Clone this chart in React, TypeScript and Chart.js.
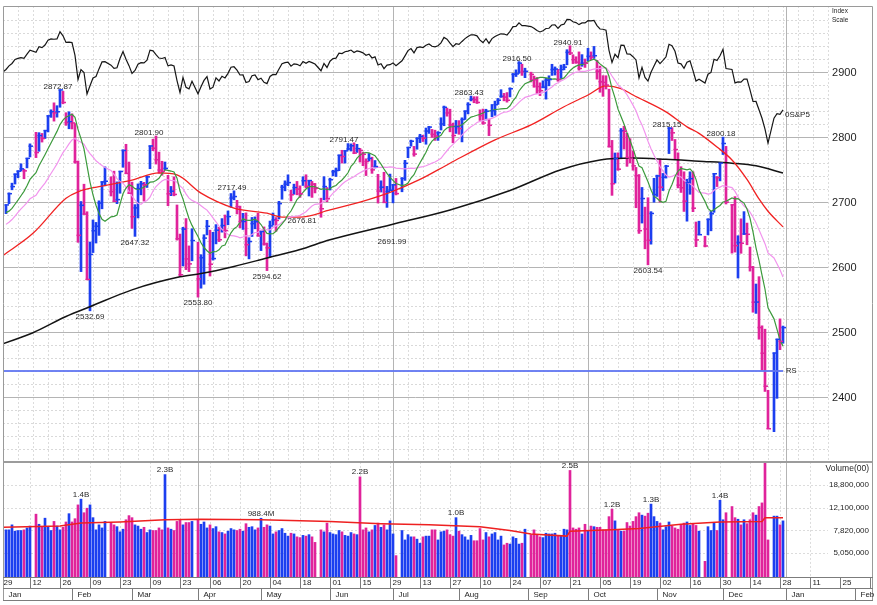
import React, { useEffect, useRef } from "react";
import { Chart, registerables } from "chart.js";

Chart.register(...registerables);

// ---------------- DATA (S&P 500, daily, 2018) ----------------
// closes of the 20 sessions before the first bar (Dec 1 - Dec 29, 2017)
const priorCloses = [
  2642.22, 2639.44, 2629.57, 2629.27, 2636.98, 2651.5, 2659.99, 2664.11, 2662.85, 2652.01,
  2675.81, 2690.16, 2681.47, 2679.25, 2684.57, 2683.34, 2680.5, 2682.62, 2687.54, 2673.61,
];

const tradingDays = [
  // Jan
  "01-02","01-03","01-04","01-05","01-08","01-09","01-10","01-11","01-12","01-16","01-17","01-18","01-19","01-22","01-23","01-24","01-25","01-26","01-29","01-30","01-31",
  // Feb
  "02-01","02-02","02-05","02-06","02-07","02-08","02-09","02-12","02-13","02-14","02-15","02-16","02-20","02-21","02-22","02-23","02-26","02-27","02-28",
  // Mar
  "03-01","03-02","03-05","03-06","03-07","03-08","03-09","03-12","03-13","03-14","03-15","03-16","03-19","03-20","03-21","03-22","03-23","03-26","03-27","03-28","03-29",
  // Apr
  "04-02","04-03","04-04","04-05","04-06","04-09","04-10","04-11","04-12","04-13","04-16","04-17","04-18","04-19","04-20","04-23","04-24","04-25","04-26","04-27","04-30",
  // May
  "05-01","05-02","05-03","05-04","05-07","05-08","05-09","05-10","05-11","05-14","05-15","05-16","05-17","05-18","05-21","05-22","05-23","05-24","05-25","05-29","05-30","05-31",
  // Jun
  "06-01","06-04","06-05","06-06","06-07","06-08","06-11","06-12","06-13","06-14","06-15","06-18","06-19","06-20","06-21","06-22","06-25","06-26","06-27","06-28","06-29",
  // Jul
  "07-02","07-03","07-05","07-06","07-09","07-10","07-11","07-12","07-13","07-16","07-17","07-18","07-19","07-20","07-23","07-24","07-25","07-26","07-27","07-30","07-31",
  // Aug
  "08-01","08-02","08-03","08-06","08-07","08-08","08-09","08-10","08-13","08-14","08-15","08-16","08-17","08-20","08-21","08-22","08-23","08-24","08-27","08-28","08-29","08-30","08-31",
  // Sep
  "09-04","09-05","09-06","09-07","09-10","09-11","09-12","09-13","09-14","09-17","09-18","09-19","09-20","09-21","09-24","09-25","09-26","09-27","09-28",
  // Oct
  "10-01","10-02","10-03","10-04","10-05","10-08","10-09","10-10","10-11","10-12","10-15","10-16","10-17","10-18","10-19","10-22","10-23","10-24","10-25","10-26","10-29","10-30","10-31",
  // Nov
  "11-01","11-02","11-05","11-06","11-07","11-08","11-09","11-12","11-13","11-14","11-15","11-16","11-19","11-20","11-21","11-23","11-26","11-27","11-28","11-29","11-30",
  // Dec
  "12-03","12-04","12-06","12-07","12-10","12-11","12-12","12-13","12-14","12-17","12-18","12-19","12-20","12-21","12-24","12-26","12-27","12-28","12-31",
];

const highs = [
  2695.89,2714.37,2729.29,2743.45,2748.51,2759.14,2750.8,2767.56,2789.81,2807.54,2807.04,2805.83,2810.33,2833.03,2842.24,2852.97,2848.56,2872.87,2870.62,2837.75,2839.26,
  2835.96,2821.13,2763.39,2701.04,2727.67,2685.27,2638.67,2672.61,2668.84,2702.1,2731.51,2754.42,2739.14,2747.75,2731.26,2747.76,2780.64,2789.15,2761.85,
  2730.89,2696.25,2728.09,2732.08,2730.6,2740.45,2786.57,2796.98,2801.9,2777.11,2763.03,2761.85,2741.38,2724.22,2739.14,2695.68,2650.88,2661.36,2674.78,2632.65,2659.07,
  2638.3,2619.14,2649.86,2672.08,2656.88,2653.55,2665.45,2661.43,2674.72,2680.26,2686.49,2713.34,2717.49,2702.84,2693.94,2682.86,2683.55,2645.3,2676.48,2677.35,2682.92,
  2655.27,2661.88,2637.14,2670.93,2683.35,2676.34,2701.27,2726.11,2732.86,2742.1,2718.59,2727.76,2731.96,2725.11,2739.19,2742.24,2733.33,2731.97,2728.91,2706.14,2739.26,2722.5,
  2736.93,2749.16,2752.61,2772.39,2779.9,2779.39,2790.21,2789.8,2791.47,2789.06,2782.81,2776.87,2766.82,2774.99,2769.28,2764.17,2742.94,2732.91,2746.09,2724.34,2743.26,
  2727.26,2736.58,2737.83,2764.41,2784.65,2795.58,2785.91,2799.22,2804.53,2803.15,2814.19,2816.76,2812.05,2810.85,2808.61,2829.99,2848.03,2844.91,2843.17,2821.74,2825.83,
  2825.57,2829.91,2840.38,2853.29,2863.43,2862.44,2862.48,2842.2,2843.4,2843.11,2827.95,2850.49,2855.63,2859.76,2873.23,2867.54,2868.78,2876.16,2898.25,2903.77,2916.5,2912.46,2906.32,
  2900.18,2894.21,2892.05,2883.81,2886.93,2890.74,2894.65,2912.36,2908.3,2904.65,2911.17,2912.36,2934.8,2940.91,2926.94,2923.95,2931.42,2927.22,2920.53,
  2937.06,2931.42,2939.86,2918.49,2909.64,2894.83,2894.7,2874.02,2795.14,2775.77,2775.99,2813.46,2816.94,2806.04,2797.77,2778.94,2753.59,2742.59,2722.7,2692.38,2706.85,2685.43,2736.69,
  2741.67,2766.28,2744.27,2756.82,2815.15,2814.75,2796.59,2775.99,2754.6,2746.8,2735.38,2746.75,2746.66,2669.44,2670.73,2647.55,2674.35,2685.75,2744.0,2739.51,2760.88,
  2800.18,2785.93,2696.15,2708.54,2648.34,2674.35,2685.44,2667.84,2630.86,2601.13,2573.99,2585.29,2509.63,2504.41,2410.34,2467.76,2489.1,2520.27,2509.24,
];

const lows = [
  2682.36,2697.77,2719.07,2727.92,2737.6,2747.86,2736.06,2752.78,2769.64,2768.64,2778.38,2792.56,2798.08,2808.12,2830.59,2824.81,2830.94,2846.18,2851.48,2818.27,2813.04,
  2812.7,2759.97,2638.17,2593.07,2681.33,2580.56,2532.69,2622.45,2637.08,2648.87,2689.82,2725.11,2709.54,2701.29,2697.77,2713.74,2753.78,2744.22,2713.54,
  2659.65,2647.32,2675.75,2711.26,2701.74,2722.65,2751.54,2779.26,2758.68,2744.38,2741.47,2749.97,2694.59,2710.05,2709.79,2641.59,2585.89,2601.81,2596.12,2593.06,2609.72,
  2553.8,2567.56,2573.61,2649.58,2586.27,2610.79,2635.78,2639.25,2653.83,2645.05,2665.16,2692.05,2703.63,2681.9,2660.61,2657.99,2617.32,2612.67,2647.16,2659.01,2648.04,
  2625.41,2633.75,2594.62,2615.32,2664.7,2655.2,2674.14,2704.54,2717.45,2725.47,2701.91,2712.17,2711.36,2707.38,2725.7,2721.88,2709.54,2707.38,2714.26,2676.81,2703.63,2700.68,
  2718.7,2740.54,2739.51,2748.46,2760.16,2760.16,2780.17,2778.78,2774.65,2776.52,2761.73,2756.21,2740.99,2763.34,2744.39,2752.68,2698.67,2715.6,2699.38,2691.99,2718.03,
  2698.95,2711.16,2716.02,2733.52,2768.51,2786.24,2770.77,2781.53,2791.69,2793.39,2789.24,2805.89,2799.77,2795.14,2795.14,2811.12,2817.73,2832.41,2808.34,2791.47,2805.85,
  2804.53,2792.84,2827.37,2835.98,2855.92,2853.09,2851.98,2825.81,2819.88,2826.58,2802.49,2831.44,2833.73,2850.62,2861.32,2856.05,2854.03,2862.07,2884.69,2893.5,2898.4,2895.22,2891.73,
  2885.13,2876.92,2867.29,2864.12,2875.94,2858.7,2879.2,2895.24,2895.77,2886.16,2890.43,2903.82,2911.48,2927.11,2913.44,2913.7,2903.28,2909.27,2907.5,
  2917.91,2919.37,2921.36,2889.45,2869.29,2862.99,2874.27,2784.86,2710.51,2729.44,2749.03,2766.91,2781.81,2755.18,2760.27,2749.22,2691.43,2651.89,2667.84,2628.16,2603.54,2635.34,2699.95,
  2708.85,2699.96,2717.94,2737.08,2774.87,2794.99,2766.98,2722.0,2714.98,2685.75,2670.75,2712.16,2685.34,2631.52,2649.82,2631.09,2649.64,2655.89,2684.38,2724.02,2732.76,
  2773.38,2697.18,2621.53,2623.14,2583.23,2621.3,2650.26,2634.36,2593.84,2530.54,2528.71,2488.96,2441.18,2408.55,2351.1,2346.58,2397.94,2472.89,2482.82,
];

const closes = [
  2695.81,2713.06,2723.99,2743.15,2747.71,2751.29,2748.23,2767.56,2786.24,2776.42,2802.56,2798.03,2810.3,2832.97,2839.13,2837.54,2839.25,2872.87,2853.53,2822.43,2823.81,
  2821.98,2762.13,2648.94,2695.14,2681.66,2581.0,2619.55,2656.0,2662.94,2698.63,2731.2,2732.22,2716.26,2701.33,2703.96,2747.3,2779.6,2744.28,2713.83,
  2677.67,2691.25,2720.94,2728.12,2726.8,2738.97,2786.57,2783.02,2765.31,2749.48,2747.33,2752.01,2712.92,2716.94,2711.93,2643.69,2588.26,2658.55,2612.62,2605.0,2640.87,
  2581.88,2614.45,2644.69,2662.84,2604.47,2613.16,2656.87,2642.19,2663.99,2656.3,2677.84,2706.39,2708.64,2693.13,2670.14,2670.29,2634.56,2639.4,2666.94,2669.91,2648.05,
  2654.8,2635.67,2629.73,2663.42,2672.63,2671.92,2697.79,2723.07,2727.72,2730.13,2711.45,2722.46,2720.13,2712.97,2733.01,2724.44,2733.29,2727.76,2721.33,2689.86,2724.01,2705.27,
  2734.62,2746.87,2748.8,2772.35,2770.37,2779.03,2782.0,2786.85,2775.63,2782.49,2779.66,2773.75,2762.59,2767.32,2749.76,2754.88,2717.07,2723.06,2699.63,2716.31,2718.37,
  2726.71,2713.22,2736.61,2759.82,2784.17,2793.84,2774.02,2798.29,2801.31,2798.43,2809.55,2815.62,2804.49,2801.83,2806.98,2820.4,2846.07,2837.44,2818.82,2802.6,2816.29,
  2813.36,2827.22,2840.35,2850.4,2858.45,2857.7,2853.58,2833.28,2821.93,2839.96,2818.37,2840.69,2850.13,2857.05,2862.96,2861.82,2856.98,2874.69,2896.74,2897.52,2914.04,2901.13,2901.52,
  2896.72,2888.6,2878.05,2871.68,2877.13,2887.89,2888.92,2904.18,2904.98,2888.8,2904.31,2907.95,2930.75,2929.67,2919.37,2915.56,2905.97,2914.0,2913.98,
  2924.59,2923.43,2925.51,2901.61,2885.57,2884.43,2880.34,2785.68,2728.37,2767.13,2750.79,2809.92,2809.21,2768.78,2767.78,2755.88,2740.69,2656.1,2705.57,2658.69,2641.25,2682.63,2711.74,
  2740.37,2723.06,2738.31,2755.45,2813.89,2806.83,2781.01,2726.22,2722.18,2701.58,2730.2,2736.27,2690.73,2641.89,2649.93,2632.56,2673.45,2682.17,2743.79,2737.8,2760.17,
  2790.37,2700.06,2695.95,2633.08,2637.72,2636.78,2651.07,2650.54,2599.95,2545.94,2546.16,2506.96,2467.42,2416.62,2351.1,2467.7,2488.83,2485.74,2506.85,
];

// volume, in millions of hundreds of shares
const volumes = [
  7.9,7.9,8.7,7.7,7.8,7.8,7.9,8.2,8.5,10.7,8.8,8.4,9.9,8.3,7.8,9.3,8.5,7.9,8.3,9.2,10.8,
  9.2,9.8,12.8,14.3,11.0,12.0,12.8,10.0,7.9,8.7,8.2,9.3,9.1,8.7,8.4,7.6,8.0,9.6,10.4,
  10.0,8.7,8.5,8.0,8.3,7.5,7.9,7.8,7.8,8.2,7.9,23.0,8.2,8.0,7.8,9.3,9.6,8.7,9.1,9.1,9.3,
  9.6,8.8,9.2,8.2,8.7,8.1,8.4,7.6,7.5,7.3,7.7,8.1,7.9,7.8,8.0,7.7,8.9,8.3,8.4,7.9,8.2,
  9.884,8.3,8.7,8.5,7.3,7.6,7.8,8.1,7.4,7.0,7.4,7.3,6.9,6.8,7.1,7.0,7.2,6.9,6.2,7.9,7.6,9.0,
  7.5,7.3,7.2,7.8,7.6,7.1,7.0,7.5,7.3,7.2,22.0,7.9,8.2,7.6,7.9,8.6,9.0,8.3,8.7,7.9,9.4,
  7.3,4.8,7.8,6.5,7.2,6.9,6.9,6.6,6.1,6.9,7.0,7.0,7.9,7.9,6.5,7.6,7.7,7.9,7.2,7.0,10.0,
  7.7,7.2,6.9,6.5,7.1,6.4,6.4,8.1,6.5,7.5,6.9,7.3,7.5,6.5,7.0,5.9,6.1,6.0,6.9,6.7,6.0,6.1,8.0,
  7.2,7.9,7.2,6.9,6.8,7.4,7.3,7.3,7.4,7.1,7.0,8.0,7.9,24.9,8.2,8.0,8.2,7.3,8.8,
  7.8,8.5,8.4,8.3,8.3,7.9,7.9,10.2,11.8,9.4,7.9,7.7,7.7,9.1,8.5,9.3,10.2,11.0,10.5,10.3,10.9,13.0,10.2,
  9.3,9.0,7.9,8.4,9.2,8.5,8.2,8.0,8.7,9.0,9.2,8.6,8.8,8.6,7.7,4.3,8.4,7.8,9.0,7.8,14.0,
  9.6,11.0,12.4,10.0,9.7,8.7,9.6,8.9,9.6,11.0,10.5,12.4,13.3,29.0,6.5,10.3,10.3,8.7,9.4,
];

// 50-day moving average
const ma50Dates = ["01-01","01-15","01-30","02-05","02-14","03-01","03-14","03-22","04-03","04-18","05-03","05-10","05-18","06-01","06-15","06-29","07-13","07-27","08-17","09-04","09-19","10-01","10-09","10-16","10-22","11-06","11-15","11-21","11-29","12-06","12-13","12-19","12-24","12-31"];
const ma50Values = [2618,2652,2706,2716,2724,2734,2745,2742,2714,2691,2683,2677,2677,2688,2700,2715,2735,2760,2796,2819,2847,2865,2879,2875,2865,2839,2816,2806,2785,2765,2735,2705,2686,2662];

// 200-day moving average
const ma200Dates = ["01-01","01-15","01-30","02-09","03-01","03-23","04-03","04-18","05-03","05-18","06-01","06-29","07-27","08-24","09-18","10-05","10-22","11-06","11-21","12-06","12-18","12-31"];
const ma200Values = [2482,2499,2524,2539,2565,2585,2590,2601,2614,2627,2642,2665,2688,2718,2750,2765,2768,2766,2763,2760,2756,2745];

// 50-day average volume (millions of hundreds)
const volAvgDates = ["01-01","01-26","02-06","02-23","03-16","04-03","05-01","06-01","06-26","07-18","08-10","08-24","09-04","09-20","09-21","10-11","10-24","11-13","11-30","12-20","12-21","12-31"];
const volAvgValues = [8.3,8.5,9.0,9.2,9.6,9.7,9.6,9.3,8.9,8.7,8.4,7.8,7.3,7.0,7.7,7.9,8.1,8.8,9.2,9.3,10.0,10.0];

// horizontal "RS" reference line
const rsLineLevel = 2440;
const rsLineDates = ["01-01", "12-31"];

const highLabelDates = ["01-26","03-13","04-18","06-13","08-07","08-29","09-21","11-07","12-03"];
const lowLabelDates = ["02-09","03-02","04-02","05-03","05-29","06-28","10-29"];
const volLabelDates = ["02-06","03-16","05-01","06-15","07-31","09-21","10-11","10-30","11-30"];

const priceTicks = [2400, 2500, 2600, 2700, 2800, 2900];
const volumeTicks = [18800000, 12100000, 7820000, 5050000];

const dayTickDates = ["2017-12-29","01-12","01-26","02-09","02-23","03-09","03-23","04-06","04-20","05-04","05-18","06-01","06-15","06-29","07-13","07-27","08-10","08-24","09-07","09-21","10-05","10-19","11-02","11-16","11-30","12-14","12-28","2019-01-11","2019-01-25","2019-02-08"];
const monthStartDates = ["01-01","02-01","03-01","04-02","05-01","06-01","07-02","08-01","09-03","10-01","11-01","12-03","2019-01-01","2019-02-01"];
const monthLabels = ["Jan","Feb","Mar","Apr","May","Jun","Jul","Aug","Sep","Oct","Nov","Dec","Jan","Feb"];
const quarterStartDates = ["04-02","07-02","10-01","2019-01-01"];

// ---------------- layout / style ----------------
const FONT = '"Liberation Sans", Arial, Helvetica, sans-serif';
const BLUE = "#1c3ff0";
const MAGENTA = "#e0239b";
const X_MIN = 1;
const X_MAX = 291;
const GRID_RIGHT = 276;
const PANEL_SPLIT = 2300;
const PRICE_MIN = 2122.8;
const PRICE_MAX = 3002.1;
const RS_MIN = 318.8;
const RS_MAX = 2993.2;
const VOL_MIN = 3.175;
const VOL_MAX = 197700;
const labelNudges: Record<string, [number, number]> = {
  "03-13": [-5, 0],
  "06-13": [-8, 0],
  "05-29": [-19, -2],
  "06-28": [5, 28],
};

function weekdayIndex(s: string): number {
  const p = s.split("-").map(Number);
  const [yy, mm, dd] = p.length === 3 ? p : [2018, p[0], p[1]];
  const days = Math.round((Date.UTC(yy, mm - 1, dd) - Date.UTC(2017, 11, 29)) / 86400000);
  const w = Math.floor(days / 7);
  const r = days - w * 7;
  return w * 5 + Math.max(0, r - 2);
}

export default function App() {
  const ref = useRef<HTMLCanvasElement | null>(null);

  useEffect(() => {
    const canvas = ref.current;
    if (!canvas) return;
    const n = Math.min(tradingDays.length, highs.length, lows.length, closes.length, volumes.length);
    const xs = tradingDays.slice(0, n).map(weekdayIndex);
    const lastPrior = priorCloses[priorCloses.length - 1];
    const colors = xs.map((_, i) => (closes[i] >= (i === 0 ? lastPrior : closes[i - 1]) ? BLUE : MAGENTA));
    const allCloses = [...priorCloses, ...closes.slice(0, n)];
    const sma = (len: number) =>
      xs.map((x, i) => {
        const end = i + priorCloses.length;
        let s = 0;
        for (let k = end - len + 1; k <= end; k++) s += allCloses[k];
        return { x, y: s / len };
      });
    const pairs = (dates: string[], vals: number[]) => dates.map((d, i) => ({ x: weekdayIndex(d), y: vals[i] }));
    const dayIdx = (d: string) => tradingDays.indexOf(d);

    const line = (ctx: CanvasRenderingContext2D, x1: number, y1: number, x2: number, y2: number) => {
      ctx.beginPath();
      ctx.moveTo(x1, y1);
      ctx.lineTo(x2, y2);
      ctx.stroke();
    };

    const gridPlugin = {
      id: "grid",
      beforeDatasetsDraw(chart: any) {
        const { ctx, chartArea: ca, scales } = chart;
        const X = scales.x, Y = scales.y, V = scales.yVol;
        const gx1 = X.getPixelForValue(GRID_RIGHT);
        const split = Y.getPixelForValue(PANEL_SPLIT);
        ctx.save();
        ctx.lineWidth = 1;
        // price horizontal grid
        for (let v = 2320; v <= 2980; v += 20) {
          const py = Math.round(Y.getPixelForValue(v)) + 0.5;
          if (v % 100 === 0) {
            ctx.setLineDash([]);
            ctx.strokeStyle = "#b4b4b4";
          } else {
            ctx.setLineDash([2, 2]);
            ctx.strokeStyle = "#d9d9d9";
          }
          line(ctx, ca.left, py, gx1, py);
        }
        // price vertical weekly grid
        const quarters = quarterStartDates.map(weekdayIndex);
        ctx.setLineDash([2, 2]);
        ctx.strokeStyle = "#dcdcdc";
        for (let i = 6; i <= GRID_RIGHT; i += 5) {
          if (quarters.includes(i)) continue;
          const px = Math.round(X.getPixelForValue(i)) + 0.5;
          line(ctx, px, ca.top, px, split);
        }
        // volume grid
        for (const t of volumeTicks) {
          const py = Math.round(V.getPixelForValue(t / 1e6)) + 0.5;
          line(ctx, ca.left, py, gx1, py);
        }
        for (const d of dayTickDates) {
          const i = weekdayIndex(d);
          if (i < X_MIN || i > GRID_RIGHT) continue;
          const px = Math.round(X.getPixelForValue(i)) + 0.5;
          line(ctx, px, split, px, ca.bottom);
        }
        // quarter lines
        ctx.setLineDash([]);
        ctx.strokeStyle = "#b4b4b4";
        for (const q of quarters) {
          const px = Math.round(X.getPixelForValue(q)) + 0.5;
          line(ctx, px, ca.top, px, ca.bottom);
        }
        ctx.restore();
      },
    };

    const overlayPlugin = {
      id: "overlay",
      afterDatasetsDraw(chart: any) {
        const { ctx, chartArea: ca, scales } = chart;
        const X = scales.x, Y = scales.y, V = scales.yVol, R = scales.yRS;
        ctx.save();
        // close ticks
        xs.forEach((x, i) => {
          const px = X.getPixelForValue(x);
          const py = Y.getPixelForValue(closes[i]);
          ctx.fillStyle = colors[i];
          ctx.fillRect(px - 1.5, py - 0.75, 4.5, 1.5);
        });

        // price annotations
        ctx.font = `8px ${FONT}`;
        ctx.fillStyle = "#2a2a2a";
        ctx.textAlign = "center";
        ctx.textBaseline = "middle";
        for (const d of highLabelDates) {
          const i = dayIdx(d);
          const nd = labelNudges[d] || [0, 0];
          ctx.fillText(highs[i].toFixed(2), X.getPixelForValue(xs[i]) - 2 + nd[0], Y.getPixelForValue(highs[i]) - 3 + nd[1]);
        }
        for (const d of lowLabelDates) {
          const i = dayIdx(d);
          const nd = labelNudges[d] || [0, 0];
          ctx.fillText(lows[i].toFixed(2), X.getPixelForValue(xs[i]) + nd[0], Y.getPixelForValue(lows[i]) + 6 + nd[1]);
        }
        // volume annotations
        ctx.textBaseline = "alphabetic";
        for (const d of volLabelDates) {
          const i = dayIdx(d);
          const v = volumes[i];
          const txt = v >= 10 ? (v / 10).toFixed(1) + "B" : (v * 100).toFixed(1) + "M";
          ctx.fillText(txt, X.getPixelForValue(xs[i]), V.getPixelForValue(v) - 2.5);
        }

        // RS labels
        const lastX = X.getPixelForValue(xs[n - 1]);
        ctx.textAlign = "left";
        ctx.textBaseline = "middle";
        ctx.font = `8px ${FONT}`;
        ctx.fillStyle = "#222";
        ctx.fillText("0S&P5", lastX + 2, R.getPixelForValue(closes[n - 1]) + 5);
        ctx.font = `7.5px ${FONT}`;
        ctx.fillText("RS", X.getPixelForValue(weekdayIndex(rsLineDates[1])) + 3, Y.getPixelForValue(rsLineLevel));

        // right axis labels
        ctx.fillStyle = "#1e1e1e";
        ctx.font = `6.5px ${FONT}`;
        ctx.fillText("Index", 832, 11.5);
        ctx.fillText("Scale", 832, 20.5);
        ctx.textAlign = "right";
        ctx.font = `11px ${FONT}`;
        for (const t of priceTicks) ctx.fillText(String(t), 856.5, Y.getPixelForValue(t) + 0.5);
        ctx.font = `8.5px ${FONT}`;
        ctx.fillText("Volume(00)", 869, V.getPixelForValue(volumeTicks[0] / 1e6) - 16.5);
        ctx.font = `8px ${FONT}`;
        for (const t of volumeTicks) ctx.fillText(t.toLocaleString("en-US"), 869, V.getPixelForValue(t / 1e6));

        // frames
        const split = Y.getPixelForValue(PANEL_SPLIT);
        const dayRowBottom = ca.bottom + 11;
        const axisBottom = ca.bottom + 23;
        ctx.strokeStyle = "#9a9a9a";
        ctx.lineWidth = 1;
        ctx.beginPath();
        ctx.moveTo(ca.left + 0.5, axisBottom + 0.5);
        ctx.lineTo(ca.left + 0.5, ca.top + 0.5);
        ctx.lineTo(ca.right - 0.5, ca.top + 0.5);
        ctx.lineTo(ca.right - 0.5, axisBottom + 0.5);
        ctx.stroke();
        ctx.strokeStyle = "#9c9c9c";
        ctx.lineWidth = 2;
        line(ctx, ca.left, Math.round(split), ca.right, Math.round(split));
        ctx.lineWidth = 1;
        ctx.strokeStyle = "#7c7c7c";
        line(ctx, ca.left, ca.bottom + 0.5, ca.right, ca.bottom + 0.5);
        line(ctx, ca.left, dayRowBottom + 0.5, ca.right, dayRowBottom + 0.5);
        line(ctx, ca.left, axisBottom + 0.5, ca.right, axisBottom + 0.5);

        // day ticks
        ctx.fillStyle = "#1e1e1e";
        ctx.font = `8px ${FONT}`;
        ctx.textAlign = "left";
        ctx.textBaseline = "middle";
        for (const d of dayTickDates) {
          const px = Math.round(X.getPixelForValue(weekdayIndex(d))) + 0.5;
          if (px > ca.left + 1) line(ctx, px, ca.bottom, px, dayRowBottom);
          const label = d.slice(-2);
          const tx = Math.max(px + 2, ca.left + 0.5);
          if (tx < ca.right - 4) ctx.fillText(label, tx, ca.bottom + 5.5);
        }
        // month boxes
        monthStartDates.forEach((d, k) => {
          const px = Math.round(X.getPixelForValue(weekdayIndex(d))) + 0.5;
          if (px > ca.left + 1) line(ctx, px, dayRowBottom, px, axisBottom);
          if (px + 5 < ca.right - 4) ctx.fillText(monthLabels[k], Math.max(px, ca.left) + 5, dayRowBottom + 6.5);
        });
        ctx.restore();
      },
    };

    const chart = new Chart(canvas, {
      type: "line",
      data: {
        datasets: [
          {
            type: "line",
            label: "RS line",
            yAxisID: "yRS",
            data: [{ x: 0, y: lastPrior }, ...xs.map((x, i) => ({ x, y: closes[i] }))],
            borderColor: "#161616",
            borderWidth: 1.2,
            pointRadius: 0,
            order: 1,
          },
          { type: "line", label: "10-day", data: sma(10), borderColor: "#3c9a3c", borderWidth: 1.2, pointRadius: 0, order: 2 },
          { type: "line", label: "21-day", data: sma(21), borderColor: "#f294ee", borderWidth: 1.2, pointRadius: 0, order: 3 },
          {
            type: "line", label: "50-day", data: pairs(ma50Dates, ma50Values), borderColor: "#f12222",
            borderWidth: 1.3, pointRadius: 0, cubicInterpolationMode: "monotone", order: 4,
          },
          {
            type: "line", label: "200-day", data: pairs(ma200Dates, ma200Values), borderColor: "#141414",
            borderWidth: 1.5, pointRadius: 0, cubicInterpolationMode: "monotone", order: 5,
          },
          {
            type: "line", label: "RS", data: rsLineDates.map((d) => ({ x: weekdayIndex(d), y: rsLineLevel })),
            borderColor: "rgba(96,118,242,0.9)", borderWidth: 2, pointRadius: 0, order: 6,
          },
          {
            type: "line", label: "Avg volume", yAxisID: "yVol", data: pairs(volAvgDates, volAvgValues),
            borderColor: "#ee2020", borderWidth: 1.5, pointRadius: 0, order: 7,
          },
          {
            type: "bar", label: "Price", data: xs.map((x, i) => ({ x, y: [lows[i], highs[i]] })) as any,
            backgroundColor: colors, borderWidth: 0, barThickness: 2, grouped: false, order: 10,
          },
          {
            type: "bar", label: "Volume", yAxisID: "yVol", data: xs.map((x, i) => ({ x, y: [VOL_MIN, volumes[i]] })) as any,
            backgroundColor: colors, borderWidth: 0, barThickness: 2, grouped: false, order: 11,
          },
        ] as any,
      },
      options: {
        responsive: false,
        animation: false,
        devicePixelRatio: 1,
        events: [],
        layout: { padding: { left: 3, top: 6, right: 4, bottom: 28 } },
        plugins: { legend: { display: false }, tooltip: { enabled: false } },
        scales: {
          x: { type: "linear", min: X_MIN, max: X_MAX, display: false, offset: false },
          y: { type: "linear", min: PRICE_MIN, max: PRICE_MAX, display: false },
          yRS: { type: "linear", min: RS_MIN, max: RS_MAX, display: false },
          yVol: { type: "logarithmic", min: VOL_MIN, max: VOL_MAX, display: false },
        },
      } as any,
      plugins: [gridPlugin, overlayPlugin],
    });
    return () => chart.destroy();
  }, []);

  return (
    <div style={{ position: "fixed", left: 0, top: 0, width: 877, height: 605, background: "#fff" }}>
      <canvas ref={ref} width={877} height={605} style={{ display: "block", width: 877, height: 605 }} />
    </div>
  );
}
